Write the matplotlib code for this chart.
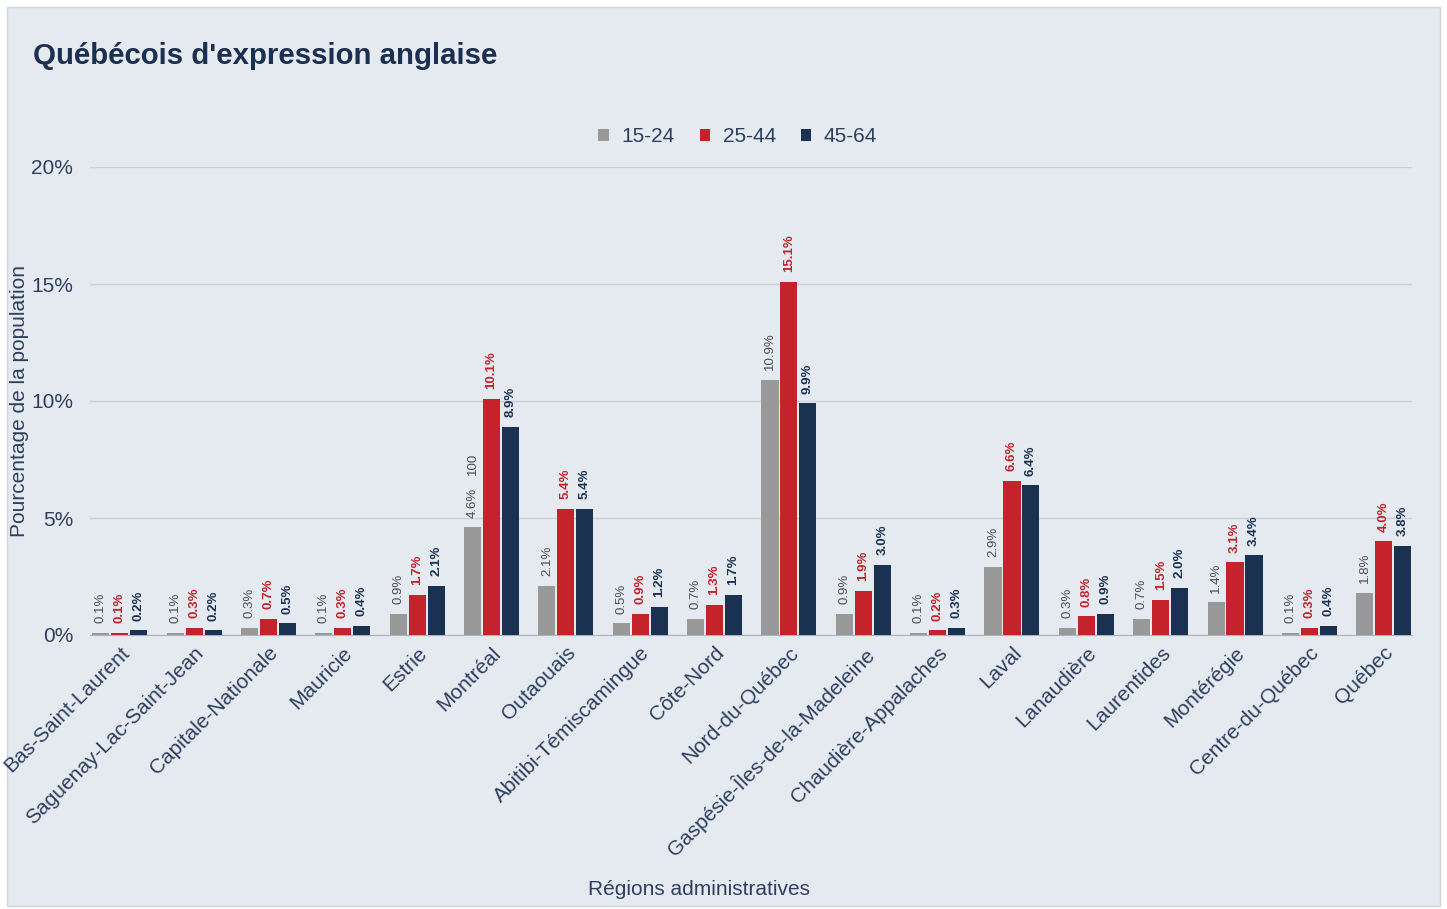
import matplotlib.pyplot as plt
import numpy as np
from matplotlib.patches import Rectangle

plt.rcParams['font.family'] = ['Liberation Sans', 'DejaVu Sans']

regions = ['Bas-Saint-Laurent', 'Saguenay-Lac-Saint-Jean', 'Capitale-Nationale',
           'Mauricie', 'Estrie', 'Montréal', 'Outaouais', 'Abitibi-Témiscamingue',
           'Côte-Nord', 'Nord-du-Québec', 'Gaspésie-Îles-de-la-Madeleine',
           'Chaudière-Appalaches', 'Laval', 'Lanaudière', 'Laurentides',
           'Montérégie', 'Centre-du-Québec', 'Québec']
age_15_24 = [0.1, 0.1, 0.3, 0.1, 0.9, 4.6, 2.1, 0.5, 0.7, 10.9, 0.9, 0.1, 2.9, 0.3, 0.7, 1.4, 0.1, 1.8]
age_25_44 = [0.1, 0.3, 0.7, 0.3, 1.7, 10.1, 5.4, 0.9, 1.3, 15.1, 1.9, 0.2, 6.6, 0.8, 1.5, 3.1, 0.3, 4.0]
age_45_64 = [0.2, 0.2, 0.5, 0.4, 2.1, 8.9, 5.4, 1.2, 1.7, 9.9, 3.0, 0.3, 6.4, 0.9, 2.0, 3.4, 0.4, 3.8]
series_names = ['15-24', '25-44', '45-64']

c_gray = '#999999'
c_red = '#c4232b'
c_navy = '#1b3152'
bg = '#e5eaf0'
txt = '#2e3f5e'

fig = plt.figure(figsize=(14.47, 9.09), dpi=100, facecolor='white')
fig.patches.append(Rectangle((7/1447, 3/909), 1433/1447, 899/909, transform=fig.transFigure,
                             facecolor=bg, edgecolor='#d0d5dc', lw=1, zorder=-10))
ax = fig.add_axes([90/1447, 1-635/909, (1412-90)/1447, (635-167)/909])
ax.set_facecolor(bg)

index = np.arange(len(regions))
width = 0.23
off = 0.255
r1 = ax.bar(index-off, age_15_24, width, color=c_gray, label=series_names[0], zorder=3)
r2 = ax.bar(index, age_25_44, width, color=c_red, label=series_names[1], zorder=3)
r3 = ax.bar(index+off, age_45_64, width, color=c_navy, label=series_names[2], zorder=3)

def autolabel(rects, vals, color, weight):
    for rect, v in zip(rects, vals):
        ax.annotate('%.1f%%' % v, (rect.get_x()+rect.get_width()/2., rect.get_height()),
                    xytext=(0, 7), textcoords='offset points', rotation=90,
                    ha='center', va='bottom', fontsize=9.5, color=color, fontweight=weight)

autolabel(r1, age_15_24, '#4d4d4d', 'normal')
autolabel(r2, age_25_44, c_red, 'bold')
autolabel(r3, age_45_64, c_navy, 'bold')

# stray "100" label above the Montréal 15-24 bar
m = regions.index('Montréal')
ax.annotate('100', (r1[m].get_x()+r1[m].get_width()/2., r1[m].get_height()),
            xytext=(0, 38), textcoords='offset points', rotation=90,
            ha='center', va='bottom', fontsize=9.5, color='#4d4d4d')

ax.set_ylim(0, 20)
ax.set_xlim(-0.4, 17.38)
ax.set_yticks([0, 5, 10, 15, 20])
ax.set_yticklabels(['0%', '5%', '10%', '15%', '20%'])
ax.grid(axis='y', color='#c9d0db', lw=1, zorder=0)
for s in ['top', 'right', 'left']:
    ax.spines[s].set_visible(False)
ax.spines['bottom'].set_color('#aab3c0')
ax.tick_params(axis='y', length=0, pad=12, labelsize=15, labelcolor=txt)
ax.tick_params(axis='x', length=0, pad=6, labelsize=15, labelcolor=txt)
ax.set_xticks(index)
ax.set_xticklabels(regions, rotation=45, ha='right', rotation_mode='anchor')

ax.set_ylabel('Pourcentage de la population', fontsize=15, color=txt, labelpad=2)
ax.set_xlabel('Régions administratives', fontsize=15, color=txt, va='center')
ax.xaxis.set_label_coords(0.461, -0.543)

fig.text(33/1447, 1-56/909, "Québécois d'expression anglaise", fontsize=21.2, fontweight='bold',
         color='#1b2f50', va='center', ha='left')

leg = ax.legend(loc='center', bbox_to_anchor=(0.49, 1.065), ncol=3, frameon=False,
                fontsize=15, handlelength=0.5, handleheight=0.5, handletextpad=0.6,
                columnspacing=1.2, labelcolor=txt)

plt.savefig('out.png', dpi=100, facecolor=fig.get_facecolor())
